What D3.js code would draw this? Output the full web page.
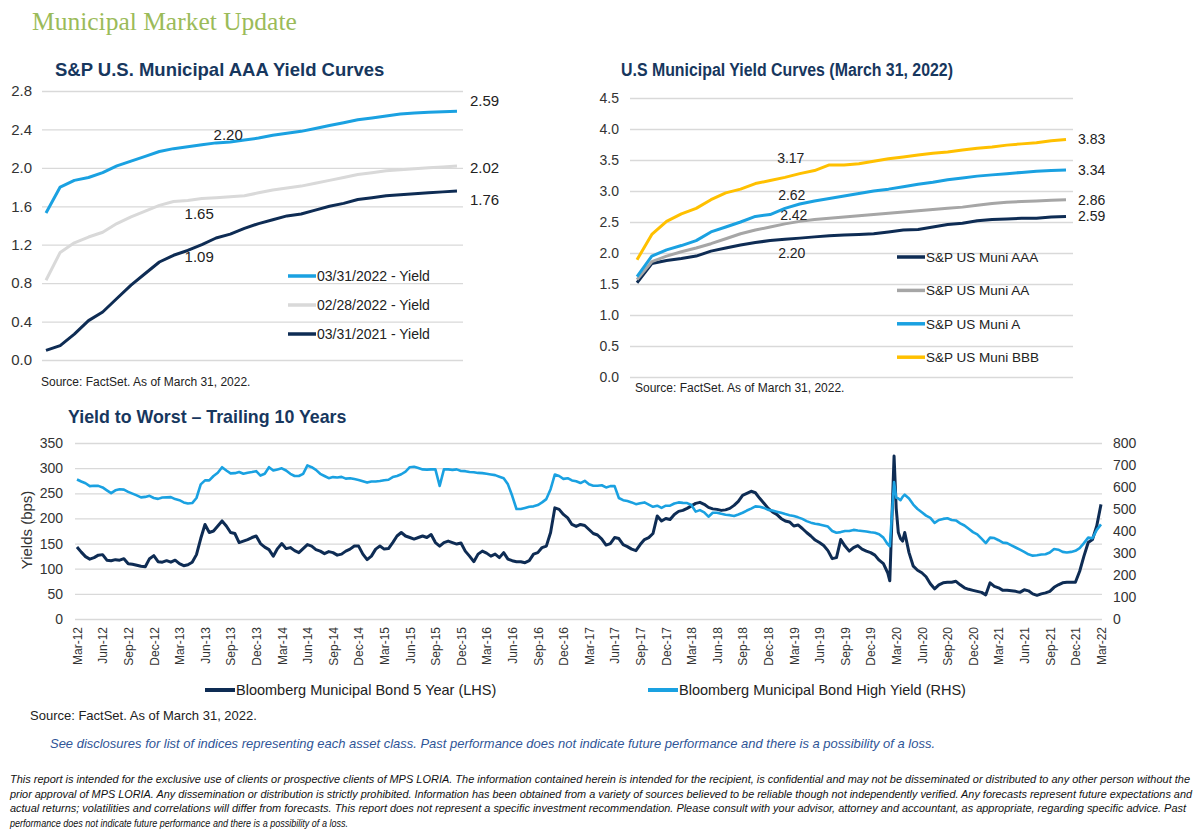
<!DOCTYPE html>
<html>
<head>
<meta charset="utf-8">
<script src="https://cdn.jsdelivr.net/npm/d3@7"></script>
<style>
    body { margin: 0; background: #fff; }
    svg text { font-family: "Liberation Sans", Arial, sans-serif; }
    .grid line { stroke: #d9d9d9; stroke-width: 1.3; }
    .grid .domain { display: none; }
</style>
</head>
<body>
<svg id="chart" width="1200" height="836"></svg>
<script>
'use strict';

// ---------- data ----------
var maturities = [1, 2, 3, 4, 5, 6, 7, 8, 9, 10, 11, 12, 13, 14, 15,
                  16, 17, 18, 19, 20, 21, 22, 23, 24, 25, 26, 27, 28, 29, 30];

// S&P U.S. Municipal AAA curves (%)
var aaaMar22 = [1.53, 1.80, 1.87, 1.90, 1.95, 2.02, 2.07, 2.12, 2.17, 2.20,
                2.22, 2.24, 2.26, 2.27, 2.29, 2.31, 2.34, 2.36, 2.38, 2.41,
                2.44, 2.47, 2.50, 2.52, 2.54, 2.56, 2.57, 2.58, 2.585, 2.59];
var aaaFeb22 = [0.83, 1.12, 1.22, 1.28, 1.33, 1.42, 1.49, 1.55, 1.61, 1.65,
                1.66, 1.68, 1.69, 1.70, 1.71, 1.74, 1.77, 1.79, 1.81, 1.84,
                1.87, 1.90, 1.93, 1.95, 1.97, 1.98, 1.99, 2.00, 2.01, 2.02];
var aaaMar21 = [0.10, 0.15, 0.27, 0.41, 0.50, 0.64, 0.78, 0.90, 1.02, 1.09,
                1.14, 1.20, 1.27, 1.31, 1.37, 1.42, 1.46, 1.50, 1.52, 1.56,
                1.60, 1.63, 1.67, 1.69, 1.71, 1.72, 1.73, 1.74, 1.75, 1.76];

// U.S. municipal curves by rating, March 31, 2022 (%)
var muniAAA = [1.52, 1.83, 1.88, 1.91, 1.95, 2.03, 2.08, 2.13, 2.17, 2.20,
               2.22, 2.24, 2.26, 2.28, 2.29, 2.30, 2.31, 2.34, 2.37, 2.38,
               2.42, 2.46, 2.48, 2.52, 2.54, 2.55, 2.56, 2.56, 2.58, 2.59];
var muniAA = [1.57, 1.86, 1.95, 2.02, 2.08, 2.15, 2.23, 2.31, 2.37, 2.42,
              2.47, 2.51, 2.54, 2.56, 2.58, 2.60, 2.62, 2.64, 2.66, 2.68,
              2.70, 2.72, 2.74, 2.77, 2.80, 2.82, 2.83, 2.84, 2.85, 2.86];
var muniA = [1.62, 1.95, 2.05, 2.12, 2.20, 2.34, 2.42, 2.50, 2.59, 2.62,
             2.72, 2.79, 2.84, 2.88, 2.92, 2.96, 3.00, 3.03, 3.07, 3.11,
             3.14, 3.18, 3.21, 3.24, 3.26, 3.28, 3.30, 3.32, 3.33, 3.34];
var muniBBB = [1.89, 2.30, 2.51, 2.63, 2.72, 2.86, 2.97, 3.03, 3.12, 3.17,
               3.22, 3.28, 3.33, 3.42, 3.42, 3.44, 3.48, 3.52, 3.55, 3.58,
               3.61, 3.63, 3.66, 3.69, 3.71, 3.74, 3.76, 3.78, 3.81, 3.83];

// yield to worst, months after Mar-2012 (half-month steps, finer around Mar-2020)
var ytwMonths = [].concat(d3.range(0, 95.01, 0.5), [95.25, 95.75],
                          d3.range(96, 97, 0.25), d3.range(97, 120.01, 0.5));
var muni5y = [
    143, 133, 124, 119, 122, 127, 128, 117, 116, 118,
    117, 120, 110, 109, 107, 105, 104, 120, 126, 114,
    113, 116, 113, 117, 110, 106, 108, 113, 128, 160,
    188, 172, 175, 185, 195, 185, 172, 170, 152, 155,
    158, 162, 165, 150, 143, 138, 125, 140, 150, 140,
    142, 136, 132, 140, 148, 145, 138, 135, 130, 134,
    132, 127, 129, 135, 139, 145, 145, 129, 118, 125,
    139, 145, 139, 140, 152, 165, 172, 165, 162, 159,
    162, 165, 162, 168, 152, 145, 152, 155, 152, 149,
    151, 135, 125, 114, 129, 135, 131, 125, 129, 122,
    132, 119, 116, 114, 114, 112, 116, 129, 132, 142,
    145, 172, 221, 218, 208, 201, 188, 184, 188, 186,
    178, 170, 167, 159, 147, 150, 162, 160, 148, 144,
    139, 136, 148, 158, 162, 170, 205, 195, 200, 198,
    208, 214, 216, 220, 225, 230, 232, 228, 222, 219,
    218, 216, 217, 220, 226, 234, 246, 250, 254, 251,
    240, 230, 220, 213, 208, 200, 195, 193, 185, 187,
    180, 172, 165, 157, 152, 146, 136, 120, 122, 158,
    145, 135, 142, 146, 139, 135, 132, 127, 117, 110,
    92, 76, 324, 220, 172, 160, 155,
    172, 132, 105, 97, 92, 84, 70, 60, 68, 72,
    73, 73, 75, 68, 62, 59, 57, 55, 53, 48,
    72, 65, 62, 57, 57, 56, 55, 53, 58, 56,
    50, 47, 50, 52, 55, 63, 68, 72, 73, 73,
    73, 95, 125, 152, 158, 185, 228
];
var muniHY = [
    634, 625, 617, 604, 606, 605, 598, 585, 572, 585,
    590, 588, 578, 570, 562, 553, 555, 560, 550, 546,
    552, 553, 554, 545, 540, 530, 525, 527, 550, 612,
    630, 630, 650, 665, 690, 675, 662, 663, 668, 660,
    665, 668, 672, 652, 660, 690, 675, 680, 685, 675,
    660, 650, 650, 660, 698, 690, 678, 660, 650, 640,
    645, 643, 646, 638, 640, 636, 632, 626, 620, 625,
    625, 627, 631, 633, 645, 650, 658, 670, 690, 692,
    686, 680, 679, 680, 680, 605, 680, 680, 678, 680,
    673, 672, 668, 667, 664, 663, 660, 657, 654, 647,
    640, 612, 560, 500, 500, 505, 510, 512, 518, 530,
    545, 590, 657, 650, 637, 640, 630, 626, 618, 628,
    612, 606, 606, 608, 598, 604, 604, 550, 540, 536,
    530, 522, 526, 530, 520, 510, 515, 505, 515, 515,
    525, 530, 528, 527, 518, 488, 495, 485, 465, 483,
    483, 478, 474, 472, 468, 475, 483, 493, 502, 512,
    510, 505, 496, 493, 488, 483, 477, 472, 468, 462,
    455, 445, 438, 433, 430, 425, 420, 400, 392, 395,
    400, 400, 405, 402, 400, 398, 394, 392, 385, 370,
    340, 330, 622, 552, 548, 540, 555,
    565, 548, 520, 500, 485, 470, 460, 437, 450, 455,
    458, 450, 448, 435, 425, 410, 395, 385, 365, 345,
    370, 368, 358, 347, 345, 335, 325, 315, 305, 294,
    288, 290, 293, 294, 302, 318, 315, 305, 302, 305,
    310, 322, 345, 370, 367, 405, 430
];

var aaaTicks = [0, 0.4, 0.8, 1.2, 1.6, 2.0, 2.4, 2.8];
var ratingTicks = [0, 0.5, 1.0, 1.5, 2.0, 2.5, 3.0, 3.5, 4.0, 4.5];
var lhsTicks = [0, 50, 100, 150, 200, 250, 300, 350];
var rhsTicks = [0, 100, 200, 300, 400, 500, 600, 700, 800];
var quarterTicks = d3.range(0, 121, 3);

var navy = "#0e2c54",
    sky = "#1aa1e1",
    titleColor = "#17375e",
    tickColor = "#333";

var svg = d3.select("#chart");
svg.append("rect").attr("width", 1200).attr("height", 836).attr("fill", "#fff");

svg.append("text")
    .attr("x", 32).attr("y", 30)
    .style("font-family", "'Liberation Serif', 'DejaVu Serif', serif")
    .attr("font-size", 25.5)
    .attr("fill", "#9bbb59")
    .text("Municipal Market Update");

var title = function(x, y, t, size, len) {
    var el = svg.append("text")
        .attr("x", x).attr("y", y)
        .attr("font-size", size)
        .attr("font-weight", "bold")
        .attr("fill", titleColor)
        .text(t);
    if (len) {
        el.attr("textLength", len).attr("lengthAdjust", "spacingAndGlyphs");
    }
};

var note = function(x, y, t, size) {
    return svg.append("text")
        .attr("x", x).attr("y", y)
        .attr("font-size", size)
        .attr("fill", "#222")
        .text(t);
};

// small yield curve panel (1..30y maturities)
var curvePanel = function(p) {
    var x = d3.scaleLinear().domain([1, 30]).range([p.x0, p.x1]);
    var y = d3.scaleLinear().domain([0, p.yMax]).range([p.yBottom, p.yTop]);

    svg.append("g")
        .attr("class", "grid")
        .attr("transform", "translate(" + p.gx0 + ",0)")
        .call(d3.axisLeft(y).tickValues(p.ticks)
            .tickSize(-(p.gx1 - p.gx0))
            .tickPadding(p.pad)
            .tickFormat(d3.format(".1f")))
        .call(function(a) {
            a.selectAll("text")
                .attr("font-size", p.tickFont)
                .attr("fill", tickColor)
                .style("font-family", "'Liberation Sans', Arial, sans-serif");
        });

    var line = d3.line()
        .x(function(d, i) { return x(maturities[i]); })
        .y(function(d) { return y(d); });

    p.series.forEach(function(s) {
        svg.append("path")
            .datum(s.values)
            .attr("fill", "none")
            .attr("stroke", s.color)
            .attr("stroke-width", 3)
            .attr("stroke-linejoin", "round")
            .attr("d", line);

        // value at 10y and at 30y
        [[9, s.mid], [29, s.end]].forEach(function(l) {
            svg.append("text")
                .attr("x", x(maturities[l[0]]) + l[1][0])
                .attr("y", y(s.values[l[0]]) + l[1][1])
                .attr("dy", "0.35em")
                .attr("font-size", p.labelFont)
                .attr("fill", "#222")
                .text(d3.format(".2f")(s.values[l[0]]));
        });
    });

    // legend
    p.legend.forEach(function(s, i) {
        var ly = p.legY + i * p.legStep;
        svg.append("line")
            .attr("x1", p.legX).attr("x2", p.legX + 28)
            .attr("y1", ly).attr("y2", ly)
            .attr("stroke", s.color).attr("stroke-width", 3.5);
        svg.append("text")
            .attr("x", p.legX + 29).attr("y", ly)
            .attr("dy", "0.35em")
            .attr("font-size", p.legFont)
            .attr("fill", "#222")
            .text(s.name);
    });
};

// ---------- top left ----------
title(55, 76, "S&P U.S. Municipal AAA Yield Curves", 18.5);
var tlSeries = [
    { name: "03/31/2022 - Yield", values: aaaMar22, color: sky, mid: [40, -14], end: [13, -10] },
    { name: "02/28/2022 - Yield", values: aaaFeb22, color: "#d9d9d9", mid: [11, 12], end: [13, 2] },
    { name: "03/31/2021 - Yield", values: aaaMar21, color: navy, mid: [11, 1], end: [13, 9] }
];
curvePanel({
    x0: 46, x1: 457, yTop: 91, yBottom: 360, yMax: 2.8,
    gx0: 42, gx1: 463, pad: 10, ticks: aaaTicks, tickFont: 15, labelFont: 15,
    series: tlSeries, legend: tlSeries,
    legX: 288, legY: 276, legStep: 29, legFont: 14
});
note(41, 386, "Source: FactSet. As of March 31, 2022.", 12);

// ---------- top right ----------
title(621, 76, "U.S Municipal Yield Curves (March 31, 2022)", 18, 332);
var trSeries = [
    { name: "S&P US Muni AAA", values: muniAAA, color: navy, mid: [8, 12], end: [12, 0] },
    { name: "S&P US Muni AA", values: muniAA, color: "#a6a6a6", mid: [10, -12], end: [12, 0] },
    { name: "S&P US Muni A", values: muniA, color: sky, mid: [8, -19], end: [12, 0] },
    { name: "S&P US Muni BBB", values: muniBBB, color: "#ffc000", mid: [7, -22], end: [12, 0] }
];
curvePanel({
    x0: 637, x1: 1066, yTop: 98, yBottom: 377, yMax: 4.5,
    gx0: 630, gx1: 1073, pad: 11, ticks: ratingTicks, tickFont: 14, labelFont: 14,
    series: trSeries, legend: trSeries,
    legX: 897, legY: 257, legStep: 33.4, legFont: 13.5
});
note(635, 392, "Source: FactSet. As of March 31, 2022.", 12);

// ---------- bottom: yield to worst ----------
title(68, 423, "Yield to Worst \u2013 Trailing 10 Years", 17.8);

var bx = d3.scaleLinear().domain([0, 120]).range([77, 1101]);
var byL = d3.scaleLinear().domain([0, 350]).range([619, 443]);
var byR = d3.scaleLinear().domain([0, 800]).range([619, 443]);

svg.append("g")
    .attr("class", "grid")
    .attr("transform", "translate(75,0)")
    .call(d3.axisLeft(byL).tickValues(lhsTicks).tickSize(-1027).tickPadding(12))
    .call(function(a) {
        a.selectAll("text").attr("font-size", 14).attr("fill", tickColor)
            .style("font-family", "'Liberation Sans', Arial, sans-serif");
    });

svg.append("g")
    .attr("class", "grid")
    .attr("transform", "translate(1102,0)")
    .call(d3.axisRight(byR).tickValues(rhsTicks).tickSize(0).tickPadding(11))
    .call(function(a) {
        a.selectAll("text").attr("font-size", 14).attr("fill", tickColor)
            .style("font-family", "'Liberation Sans', Arial, sans-serif");
    });

svg.append("g")
    .attr("transform", "translate(0,619)")
    .call(d3.axisBottom(bx).tickValues(quarterTicks).tickSize(0)
        .tickFormat(function(m) { return d3.timeFormat("%b-%y")(new Date(2012, 2 + m, 1)); }))
    .call(function(a) {
        a.select(".domain").remove();
        a.selectAll("text")
            .attr("transform", "rotate(-90)")
            .attr("text-anchor", "end")
            .attr("x", -8).attr("y", 0).attr("dy", "0.35em")
            .attr("font-size", 12).attr("fill", tickColor)
            .style("font-family", "'Liberation Sans', Arial, sans-serif");
    });

svg.append("text")
    .attr("transform", "translate(32,530) rotate(-90)")
    .attr("text-anchor", "middle")
    .attr("font-size", 15)
    .attr("fill", tickColor)
    .text("Yields (bps)");

var lineL = d3.line()
    .x(function(d, i) { return bx(ytwMonths[i]); })
    .y(function(d) { return byL(d); });
var lineR = d3.line()
    .x(function(d, i) { return bx(ytwMonths[i]); })
    .y(function(d) { return byR(d); });

svg.append("path").datum(muni5y)
    .attr("fill", "none").attr("stroke", navy).attr("stroke-width", 3)
    .attr("stroke-linejoin", "round").attr("d", lineL);
svg.append("path").datum(muniHY)
    .attr("fill", "none").attr("stroke", sky).attr("stroke-width", 2.6)
    .attr("stroke-linejoin", "round").attr("d", lineR);

var bottomLegend = [
    { name: "Bloomberg Municipal Bond 5 Year (LHS)", color: navy, x: 205 },
    { name: "Bloomberg Municipal Bond High Yield (RHS)", color: sky, x: 648 }
];
bottomLegend.forEach(function(l) {
    svg.append("line")
        .attr("x1", l.x).attr("x2", l.x + 30).attr("y1", 690).attr("y2", 690)
        .attr("stroke", l.color).attr("stroke-width", 4);
    svg.append("text")
        .attr("x", l.x + 31).attr("y", 690).attr("dy", "0.35em")
        .attr("font-size", 14.5).attr("fill", "#222")
        .text(l.name);
});

note(30, 720, "Source: FactSet. As of March 31, 2022.", 13);

svg.append("text")
    .attr("x", 50).attr("y", 748)
    .attr("font-size", 13)
    .attr("font-style", "italic")
    .attr("fill", "#2f5597")
    .attr("textLength", 885).attr("lengthAdjust", "spacingAndGlyphs")
    .text("See disclosures for list of indices representing each asset class. Past performance does not indicate future performance and there is a possibility of a loss.");

var disclaimer = [
    ["This report is intended for the exclusive use of clients or prospective clients of MPS LORIA. The information contained herein is intended for the recipient, is confidential and may not be disseminated or distributed to any other person without the", 1180],
    ["prior approval of MPS LORIA. Any dissemination or distribution is strictly prohibited. Information has been obtained from a variety of sources believed to be reliable though not independently verified. Any forecasts represent future expectations and", 1182],
    ["actual returns; volatilities and correlations will differ from forecasts. This report does not represent a specific investment recommendation. Please consult with your advisor, attorney and accountant, as appropriate, regarding specific advice. Past", 1176],
    ["performance does not indicate future performance and there is a possibility of a loss.", 338]
];
disclaimer.forEach(function(d, i) {
    svg.append("text")
        .attr("x", 10).attr("y", 783 + i * 14.7)
        .attr("font-size", 10.5)
        .attr("font-style", "italic")
        .attr("fill", "#111")
        .attr("textLength", d[1]).attr("lengthAdjust", "spacingAndGlyphs")
        .text(d[0]);
});
</script>
</body>
</html>
